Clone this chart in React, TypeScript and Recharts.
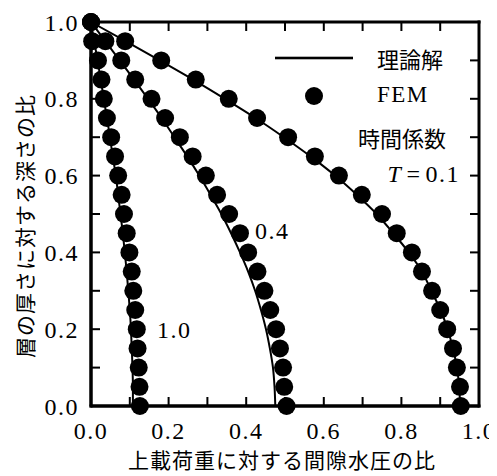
import React from 'react';
import { ScatterChart, Scatter, XAxis, YAxis, Customized } from 'recharts';

const depthRatio = [1.0, 0.95, 0.9, 0.85, 0.8, 0.75, 0.7, 0.65, 0.6, 0.55, 0.5, 0.45, 0.4, 0.35, 0.3, 0.25, 0.2, 0.15, 0.1, 0.05, 0.0];
const theoryT01 = [0, 0.089, 0.177, 0.263, 0.345, 0.424, 0.497, 0.566, 0.629, 0.685, 0.736, 0.779, 0.819, 0.853, 0.877, 0.901, 0.919, 0.933, 0.943, 0.949, 0.951];
const theoryT04 = [0, 0.037, 0.074, 0.111, 0.147, 0.182, 0.215, 0.248, 0.279, 0.308, 0.336, 0.361, 0.384, 0.405, 0.423, 0.438, 0.451, 0.461, 0.469, 0.473, 0.475];
const theoryT10 = [0, 0.008, 0.017, 0.025, 0.033, 0.041, 0.049, 0.056, 0.064, 0.07, 0.076, 0.082, 0.087, 0.092, 0.096, 0.1, 0.103, 0.105, 0.107, 0.108, 0.108];
const femT01 = [0, 0.088, 0.181, 0.27, 0.355, 0.428, 0.508, 0.577, 0.639, 0.698, 0.75, 0.788, 0.827, 0.853, 0.879, 0.9, 0.918, 0.933, 0.943, 0.951, 0.953];
const femT04 = [0, 0.037, 0.078, 0.114, 0.156, 0.191, 0.229, 0.262, 0.296, 0.325, 0.356, 0.384, 0.405, 0.429, 0.447, 0.462, 0.477, 0.487, 0.495, 0.498, 0.504];
const femT10 = [0, 0.003, 0.018, 0.027, 0.033, 0.041, 0.052, 0.062, 0.07, 0.079, 0.085, 0.092, 0.099, 0.105, 0.109, 0.114, 0.118, 0.12, 0.123, 0.125, 0.126];

const axisTicks = [0, 0.1, 0.2, 0.3, 0.4, 0.5, 0.6, 0.7, 0.8, 0.9, 1.0];
const innerTicks = [0.1, 0.2, 0.3, 0.4, 0.5, 0.6, 0.7, 0.8, 0.9];
const axisMin = 0;
const axisMax = 1;

const xTitle = '上載荷重に対する間隙水圧の比';
const yTitle = '層の厚さに対する深さの比';
const legendLine = '理論解';
const legendDot = 'FEM';
const legendHeader = '時間係数';
const curveLabels = ['0.1', '0.4', '1.0'];

const toPoints = (xs: number[]) => xs.map((x, i) => ({ x, y: depthRatio[i] }));

const serif = '"Liberation Serif", "DejaVu Serif", serif';
const cjk = '"Noto Sans CJK JP", sans-serif';

const CHART_W = 489;
const CHART_H = 468;
const MARGIN = { top: 14, right: 18, bottom: 0, left: 0 };
const Y_AXIS_W = 83;
const X_AXIS_H = 70;
const PLOT_L = MARGIN.left + Y_AXIS_W;
const PLOT_T = MARGIN.top;
const PLOT_W = CHART_W - MARGIN.right - PLOT_L;
const PLOT_H = CHART_H - MARGIN.bottom - X_AXIS_H - PLOT_T;
const TICK_LEN = 9;

const fmt = (v: number) => (Math.round(v * 10) % 2 === 0 ? v.toFixed(1) : '');

const Dot = (props: any) => <circle cx={props.cx} cy={props.cy} r={9} fill="#000" />;
const NoShape = () => <g />;

const tickStyle = { fontFamily: serif, fontSize: 24, fill: '#000', letterSpacing: 1.5 };

const FrameLayer = () => {
  const L = PLOT_L;
  const T = PLOT_T;
  const R = PLOT_L + PLOT_W;
  const B = PLOT_T + PLOT_H;
  return (
    <g>
      {innerTicks.map((t) => {
        const px = L + t * PLOT_W;
        const py = B - t * PLOT_H;
        return (
          <g key={t}>
            <rect x={px - 1} y={B - TICK_LEN} width={2} height={TICK_LEN} fill="#000" />
            <rect x={px - 1} y={T} width={2} height={TICK_LEN} fill="#000" />
            <rect x={L} y={py - 1} width={TICK_LEN} height={2} fill="#000" />
            <rect x={R - TICK_LEN} y={py - 1} width={TICK_LEN} height={2} fill="#000" />
          </g>
        );
      })}
      <rect x={L - 1.5} y={T - 1.5} width={PLOT_W + 3} height={3} fill="#000" />
      <rect x={L - 1.5} y={B - 1.5} width={PLOT_W + 3} height={3} fill="#000" />
      <rect x={L - 1.5} y={T - 1.5} width={3} height={PLOT_H + 3} fill="#000" />
      <rect x={R - 1.5} y={T - 1.5} width={3} height={PLOT_H + 3} fill="#000" />
    </g>
  );
};

const Annotations = () => (
  <g>
    <rect x={267} y={48.7} width={78} height={2.6} fill="#000" />
    <text x={369} y={50} dominantBaseline="central" fontFamily={cjk} fontSize={22} fill="#000">{legendLine}</text>
    <circle cx={306} cy={88} r={9} fill="#000" />
    <text x={369} y={86} dominantBaseline="central" fontFamily={serif} fontSize={23} letterSpacing={1.5} fill="#000">{legendDot}</text>
    <text x={350} y={129} dominantBaseline="central" fontFamily={cjk} fontSize={22} fill="#000">{legendHeader}</text>
    <text x={452} y={166} dominantBaseline="central" textAnchor="end" fontFamily={serif} fontSize={24} letterSpacing={1.5} fill="#000">
      <tspan fontStyle="italic">T</tspan>
      <tspan dx={4}>=</tspan>
      <tspan dx={4}>{curveLabels[0]}</tspan>
    </text>
    <text x={247} y={223} dominantBaseline="central" fontFamily={serif} fontSize={24} letterSpacing={1.5} fill="#000">{curveLabels[1]}</text>
    <text x={149} y={322} dominantBaseline="central" fontFamily={serif} fontSize={24} letterSpacing={1.5} fill="#000">{curveLabels[2]}</text>
    <text x={274} y={451} dominantBaseline="central" textAnchor="middle" fontFamily={cjk} fontSize={21} letterSpacing={1} fill="#000">{xTitle}</text>
    <text x={16} y={218} dominantBaseline="central" textAnchor="middle" fontFamily={cjk} fontSize={21} letterSpacing={1} fill="#000" transform="rotate(-90 16 218)">{yTitle}</text>
  </g>
);

export default function App() {
  const lineStyle = { stroke: '#000', strokeWidth: 2 };
  return (
    <ScatterChart width={CHART_W} height={CHART_H} margin={MARGIN}>
      <XAxis
        type="number"
        dataKey="x"
        domain={[axisMin, axisMax]}
        ticks={axisTicks}
        interval={0}
        height={X_AXIS_H}
        tickSize={0}
        tickMargin={16}
        tickFormatter={fmt}
        tick={tickStyle}
        axisLine={{ stroke: '#000', strokeWidth: 3 }}
        tickLine={false}
      />
      <YAxis
        type="number"
        dataKey="y"
        domain={[axisMin, axisMax]}
        ticks={axisTicks}
        interval={0}
        width={Y_AXIS_W}
        tickSize={0}
        tickMargin={12}
        tickFormatter={fmt}
        tick={tickStyle}
        axisLine={{ stroke: '#000', strokeWidth: 3 }}
        tickLine={false}
      />
      <Customized component={FrameLayer} />
      <Scatter data={toPoints(theoryT01)} shape={NoShape} line={lineStyle} lineJointType="monotoneY" isAnimationActive={false} />
      <Scatter data={toPoints(theoryT04)} shape={NoShape} line={lineStyle} lineJointType="monotoneY" isAnimationActive={false} />
      <Scatter data={toPoints(theoryT10)} shape={NoShape} line={lineStyle} lineJointType="monotoneY" isAnimationActive={false} />
      <Scatter data={toPoints(femT01)} shape={Dot} fill="#000" isAnimationActive={false} />
      <Scatter data={toPoints(femT04)} shape={Dot} fill="#000" isAnimationActive={false} />
      <Scatter data={toPoints(femT10)} shape={Dot} fill="#000" isAnimationActive={false} />
      <Customized component={Annotations} />
    </ScatterChart>
  );
}
